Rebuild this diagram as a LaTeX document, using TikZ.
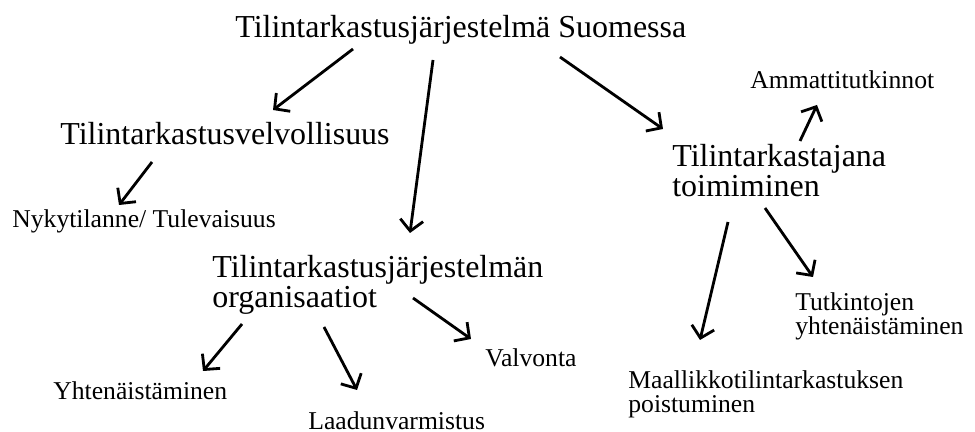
\documentclass[tikz,border=0pt]{standalone}
\usepackage{fontspec}
\setmainfont{Liberation Serif}
\usetikzlibrary{arrows.meta}

\begin{document}
\begin{tikzpicture}[x=0.02cm,y=-0.02cm,
  big/.style={anchor=base west,inner sep=0pt,align=left,font=\fontsize{18.2}{17.6}\selectfont},
  small/.style={anchor=base west,inner sep=0pt,align=left,font=\fontsize{14.6}{14.2}\selectfont},
  arr/.style={-{Straight Barb[length=2.2mm,width=4.6mm]},line width=1.6pt}]

\useasboundingbox (0,0) rectangle (975,432);

% two-line nodes sit on the baseline of their last line
\node [big] (title) at (235,38) {Tilintarkastusjärjestelmä Suomessa};
\node [big] (velv) at (60,145) {Tilintarkastusvelvollisuus};
\node [small] (nyky) at (12,228) {Nykytilanne/ Tulevaisuus};
\node [big] (org) at (212,308) {Tilintarkastusjärjestelmän\\organisaatiot};
\node [small] (yht) at (53,400) {Yhtenäistäminen};
\node [small] (laad) at (308,430) {Laadunvarmistus};
\node [small] (valv) at (485,367) {Valvonta};
\node [big] (toim) at (672,197) {Tilintarkastajana\\toimiminen};
\node [small] (amm) at (750,89) {Ammattitutkinnot};
\node [small] (tutk) at (795,335) {Tutkintojen\\yhtenäistäminen};
\node [small] (maal) at (628,413) {Maallikkotilintarkastuksen\\poistuminen};

% from the title
\draw [arr] ([shift={(118,11)}]title.base west) -- ([shift={(213,-35)}]velv.base west);
\draw [arr] ([shift={(198,22)}]title.base west) -- ([shift={(198,-75)}]org.base west);
\draw [arr] ([shift={(325,19)}]title.base west) -- ([shift={(-9,-68)}]toim.base west);

\draw [arr] ([shift={(92,17)}]velv.base west) -- ([shift={(107,-23)}]nyky.base west);

% organisations
\draw [arr] ([shift={(30,16)}]org.base west) -- ([shift={(150,-29)}]yht.base west);
\draw [arr] ([shift={(112,19)}]org.base west) -- ([shift={(49,-40)}]laad.base west);
\draw [arr] ([shift={(201,-10)}]org.base west) -- ([shift={(-14,-28)}]valv.base west);

% auditor
\draw [arr] ([shift={(128,-56)}]toim.base west) -- ([shift={(67,16)}]amm.base west);
\draw [arr] ([shift={(56,25)}]toim.base west) -- ([shift={(72,-73)}]maal.base west);
\draw [arr] ([shift={(93,11)}]toim.base west) -- ([shift={(18,-58)}]tutk.base west);

\end{tikzpicture}
\end{document}
